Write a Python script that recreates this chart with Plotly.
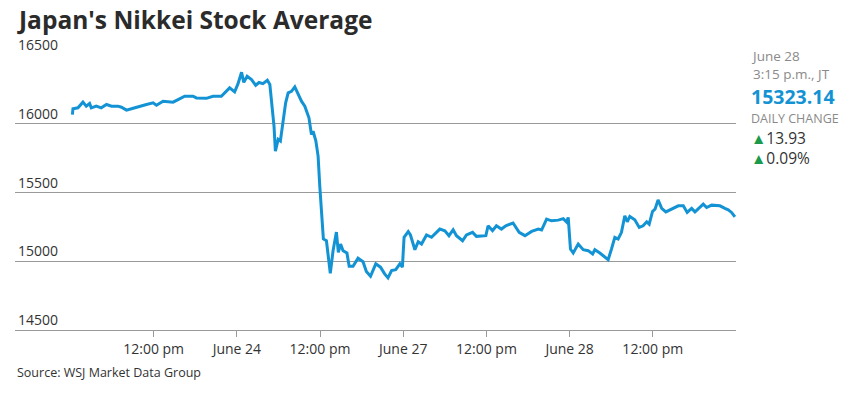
import plotly.graph_objects as go

# x = trading hours from June 23 open (each session = 6 units), y = index level
hours = [0.07, 0.09, 0.27, 0.45, 0.57, 0.69, 0.75, 0.93, 1.11, 1.30, 1.48, 1.71, 1.84, 2.02, 2.20,
         2.50, 2.74, 2.98, 3.10, 3.34, 3.70, 3.88, 4.12, 4.42, 4.54, 4.90, 5.14, 5.44, 5.56, 5.74,
         5.92, 6.04, 6.17, 6.25, 6.37, 6.53, 6.68, 6.80, 6.94, 7.10, 7.19, 7.28, 7.34, 7.39, 7.49,
         7.57, 7.67, 7.76, 7.85, 7.97, 8.09, 8.21, 8.33, 8.45, 8.60, 8.69, 8.75, 8.85, 8.93, 8.99,
         9.02, 9.09, 9.12, 9.23, 9.37, 9.47, 9.59, 9.66, 9.74, 9.83, 9.97, 10.05, 10.19, 10.37, 10.55,
         10.67, 10.82, 11.01, 11.18, 11.33, 11.45, 11.58, 11.73, 11.88, 11.97, 12.03, 12.18, 12.26, 12.42, 12.54,
         12.66, 12.84, 13.02, 13.32, 13.50, 13.65, 13.80, 13.92, 14.14, 14.28, 14.50, 14.64, 14.82, 14.98, 15.06,
         15.22, 15.36, 15.54, 15.70, 15.96, 16.18, 16.39, 16.63, 16.87, 16.99, 17.17, 17.35, 17.59, 17.77, 17.89,
         17.95, 18.03, 18.13, 18.31, 18.49, 18.67, 18.83, 18.91, 19.09, 19.27, 19.39, 19.51, 19.63, 19.75, 19.87,
         19.99, 20.08, 20.17, 20.35, 20.51, 20.65, 20.78, 20.87, 20.99, 21.08, 21.19, 21.32, 21.47, 21.62, 21.74,
         21.92, 22.10, 22.24, 22.40, 22.52, 22.82, 22.94, 23.12, 23.42, 23.60, 23.72, 23.84, 23.96]
nikkei = [16067, 16109, 16116, 16157, 16128, 16147, 16116, 16128, 16116, 16140, 16128, 16128, 16120, 16099, 16109,
          16128, 16140, 16152, 16135, 16164, 16157, 16176, 16200, 16200, 16188, 16185, 16200, 16200, 16225, 16261,
          16232, 16290, 16374, 16301, 16345, 16321, 16280, 16300, 16292, 16316, 16285, 16128, 15983, 15801, 15886,
          15874, 16019, 16152, 16225, 16236, 16268, 16212, 16164, 16128, 16043, 15922, 15946, 15874, 15765, 15548,
          15451, 15200, 15162, 15149, 14912, 15077, 15212, 15065, 15125, 15077, 15060, 14964, 14964, 15022, 14997,
          14925, 14891, 14981, 14957, 14908, 14879, 14932, 14939, 14981, 14957, 15174, 15215, 15191, 15084, 15142,
          15125, 15191, 15174, 15234, 15222, 15186, 15229, 15186, 15149, 15191, 15210, 15181, 15186, 15186, 15258,
          15222, 15258, 15234, 15258, 15278, 15210, 15186, 15217, 15234, 15227, 15307, 15294, 15299, 15310, 15285,
          15319, 15089, 15060, 15125, 15084, 15077, 15053, 15084, 15060, 15029, 15012, 15089, 15174, 15162, 15210,
          15331, 15287, 15326, 15301, 15246, 15258, 15287, 15270, 15362, 15379, 15446, 15384, 15359, 15374, 15384,
          15403, 15403, 15355, 15384, 15359, 15415, 15391, 15408, 15403, 15384, 15374, 15355, 15323]

x_tick_vals = [3, 6, 9, 12, 15, 18, 21]
x_tick_text = ["12:00 pm", "June 24", "12:00 pm", "June 27", "12:00 pm", "June 28", "12:00 pm"]
y_tick_vals = [14500, 15000, 15500, 16000, 16500]
y_tick_text = ["14500", "15000", "15500", "16000", "16500"]

FONT = "Open Sans"
BLUE = "#1393d4"
GRID = "#9a9a9a"

fig = go.Figure()
fig.add_trace(go.Scatter(x=hours, y=nikkei, mode="lines",
                         line=dict(color=BLUE, width=3), hoverinfo="skip"))

fig.update_layout(
    width=862, height=396,
    margin=dict(l=15, r=126, t=55, b=66),
    paper_bgcolor="white", plot_bgcolor="white",
    showlegend=False,
    font=dict(family=FONT, color="#333333"),
    xaxis=dict(range=[-2, 24], tickvals=x_tick_vals, ticktext=x_tick_text,
               showgrid=False, zeroline=False, showline=True, linecolor=GRID, linewidth=1,
               ticks="outside", ticklen=6, tickcolor=GRID, tickwidth=1,
               tickfont=dict(size=14, color="#333333", family=FONT)),
    yaxis=dict(range=[14500, 16500], tickvals=y_tick_vals, ticktext=y_tick_text,
               showgrid=True, gridcolor=GRID,
               gridwidth=1, zeroline=False, showline=False,
               ticklabelposition="inside top", ticklabeloverflow="allow",
               tickfont=dict(size=14, color="#333333", family=FONT)),
)

ann = []
ann.append(dict(text="<b>Japan's Nikkei Stock Average</b>", x=0, y=1.1285, xref="paper", yref="paper",
                xanchor="left", yanchor="middle", showarrow=False,
                font=dict(size=24.5, color="#2b2b2b", family=FONT)))
ann.append(dict(text="Source: WSJ Market Data Group", x=0, y=-0.153, xref="paper", yref="paper",
                xanchor="left", yanchor="middle", showarrow=False,
                font=dict(size=12.5, color="#333333", family=FONT)))
side = [
    ("June 28<br>3:15 p.m., JT", 0.9636, 13.5, "#8a8a8a"),
    ("<b>15323.14</b>", 0.8509, 19.5, BLUE),
    ("DAILY CHANGE", 0.7673, 12.5, "#8a8a8a"),
    ("<span style='color:#1a9a4a'>▲</span>13.93", 0.6971, 15.5, "#333333"),
    ("<span style='color:#1a9a4a'>▲</span>0.09%", 0.6244, 15.5, "#333333"),
]
for t, yy, sz, col in side:
    ann.append(dict(text=t, x=1.018, y=yy, xref="paper", yref="paper",
                    xanchor="left", yanchor="middle", align="left", showarrow=False,
                    font=dict(size=sz, color=col, family=FONT)))
fig.update_layout(annotations=ann)

fig.write_html("out.html", config={"displayModeBar": False},
               post_script="document.body.style.margin='0';document.body.style.padding='0';")
